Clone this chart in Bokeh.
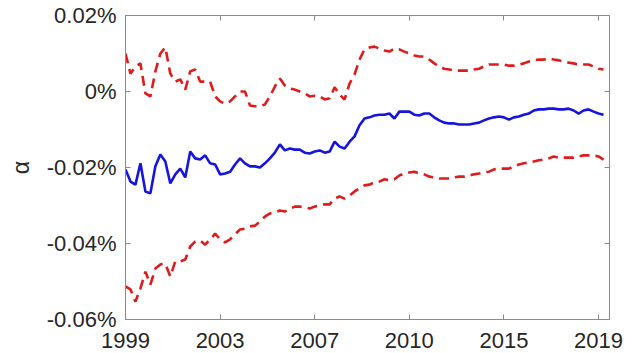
from bokeh.plotting import figure
from bokeh.models import Range1d, FixedTicker, LinearAxis
from bokeh.embed import file_html
from bokeh.resources import INLINE

# tick positions (observation index) and labels
x_tick_pos = [0, 19, 38, 57, 76, 95]
x_tick_labels = ["1999", "2003", "2007", "2010", "2015", "2019"]
y_tick_pos = [-0.06, -0.04, -0.02, 0.0, 0.02]
y_tick_labels = ["-0.06%", "-0.04%", "-0.02%", "0%", "0.02%"]

# alpha estimate (in %) and its upper / lower bands
alpha = [-0.0205, -0.0237, -0.0245, -0.0189, -0.0263, -0.0268, -0.0197, -0.0166, -0.0184, -0.0242,
         -0.0218, -0.0203, -0.0226, -0.0158, -0.0176, -0.0179, -0.0168, -0.0189, -0.0192, -0.0218,
         -0.0216, -0.0211, -0.0192, -0.0176, -0.0189, -0.0197, -0.0197, -0.0200, -0.0189, -0.0176,
         -0.0161, -0.0139, -0.0155, -0.0150, -0.0153, -0.0153, -0.0161, -0.0163, -0.0158, -0.0155,
         -0.0161, -0.0158, -0.0132, -0.0145, -0.0150, -0.0132, -0.0118, -0.0089, -0.0071, -0.0068,
         -0.0063, -0.0061, -0.0061, -0.0058, -0.0071, -0.0053, -0.0053, -0.0053, -0.0061, -0.0063,
         -0.0058, -0.0058, -0.0068, -0.0076, -0.0082, -0.0084, -0.0084, -0.0087, -0.0087, -0.0087,
         -0.0084, -0.0082, -0.0076, -0.0071, -0.0068, -0.0066, -0.0068, -0.0074, -0.0068, -0.0066,
         -0.0061, -0.0058, -0.0050, -0.0047, -0.0047, -0.0045, -0.0045, -0.0047, -0.0047, -0.0045,
         -0.0050, -0.0058, -0.0050, -0.0047, -0.0053, -0.0058, -0.0061]

upper = [0.0100, 0.0047, 0.0066, 0.0074, -0.0005, -0.0013, 0.0053, 0.0100, 0.0116, 0.0047,
         0.0026, 0.0032, 0.0005, 0.0053, 0.0058, 0.0026, 0.0026, 0.0026, -0.0013, -0.0026,
         -0.0032, -0.0026, -0.0013, 0.0000, 0.0000, -0.0037, -0.0039, -0.0039, -0.0034, -0.0013,
         0.0013, 0.0034, 0.0016, 0.0008, 0.0005, 0.0000, -0.0005, -0.0013, -0.0011, -0.0013,
         -0.0021, -0.0018, 0.0011, -0.0008, -0.0021, 0.0021, 0.0045, 0.0084, 0.0111, 0.0116,
         0.0118, 0.0113, 0.0108, 0.0105, 0.0113, 0.0111, 0.0105, 0.0100, 0.0095, 0.0092,
         0.0092, 0.0084, 0.0074, 0.0066, 0.0060, 0.0058, 0.0055, 0.0055, 0.0055, 0.0055,
         0.0058, 0.0060, 0.0066, 0.0071, 0.0071, 0.0071, 0.0071, 0.0068, 0.0068, 0.0071,
         0.0074, 0.0079, 0.0082, 0.0084, 0.0084, 0.0087, 0.0084, 0.0082, 0.0079, 0.0076,
         0.0074, 0.0071, 0.0071, 0.0071, 0.0066, 0.0060, 0.0058]

lower = [-0.0513, -0.0521, -0.0553, -0.0518, -0.0474, -0.0508, -0.0466, -0.0455, -0.0453, -0.0487,
         -0.0447, -0.0447, -0.0442, -0.0408, -0.0395, -0.0392, -0.0403, -0.0389, -0.0374, -0.0389,
         -0.0397, -0.0389, -0.0376, -0.0363, -0.0361, -0.0355, -0.0353, -0.0342, -0.0329, -0.0321,
         -0.0318, -0.0313, -0.0316, -0.0308, -0.0303, -0.0303, -0.0305, -0.0308, -0.0303, -0.0300,
         -0.0297, -0.0297, -0.0282, -0.0276, -0.0282, -0.0274, -0.0263, -0.0255, -0.0247, -0.0245,
         -0.0239, -0.0237, -0.0231, -0.0234, -0.0231, -0.0221, -0.0216, -0.0213, -0.0211, -0.0216,
         -0.0218, -0.0224, -0.0226, -0.0229, -0.0229, -0.0229, -0.0226, -0.0224, -0.0224, -0.0221,
         -0.0218, -0.0216, -0.0213, -0.0211, -0.0205, -0.0203, -0.0203, -0.0203, -0.0197, -0.0192,
         -0.0189, -0.0187, -0.0184, -0.0181, -0.0179, -0.0176, -0.0171, -0.0174, -0.0174, -0.0174,
         -0.0174, -0.0171, -0.0168, -0.0168, -0.0168, -0.0171, -0.0179]

t = list(range(len(alpha)))

FONT = "Liberation Sans"
AX = "#8a8a8a"
TXT = "#262626"

p = figure(width=634, height=353, output_backend="svg", toolbar_location=None,
           x_range=Range1d(0, 97.2), y_range=Range1d(-0.06, 0.02),
           min_border_left=125, min_border_right=25, min_border_top=15, min_border_bottom=34)
p.grid.visible = False
p.outline_line_color = AX
p.background_fill_color = "white"
p.border_fill_color = "white"

p.line(t, upper, line_color="#e01b1b", line_width=2.6, line_dash="10 6")
p.line(t, lower, line_color="#e01b1b", line_width=2.6, line_dash="10 6")
p.line(t, alpha, line_color="#1414dc", line_width=2.6)

xa = p.xaxis[0]
xa.ticker = FixedTicker(ticks=x_tick_pos)
xa.major_label_overrides = {pos: lab for pos, lab in zip(x_tick_pos, x_tick_labels)}
ya = p.yaxis[0]
ya.ticker = FixedTicker(ticks=y_tick_pos)
ya.major_label_overrides = {pos: lab for pos, lab in zip(y_tick_pos, y_tick_labels)}
ya.axis_label = "α"
ya.axis_label_text_font = FONT
ya.axis_label_text_font_size = "23px"
ya.axis_label_text_font_style = "normal"
ya.axis_label_text_color = TXT
ya.axis_label_standoff = 10

for ax in (xa, ya):
    ax.major_label_text_font = FONT
    ax.major_label_text_font_size = "22px"
    ax.major_label_text_color = TXT
    ax.axis_line_color = AX
    ax.major_tick_line_color = AX
    ax.major_tick_in = 5
    ax.major_tick_out = 0
    ax.minor_tick_line_color = None
xa.major_label_standoff = 13
ya.major_label_standoff = 9

top = LinearAxis(ticker=FixedTicker(ticks=x_tick_pos), major_label_text_font_size="1px",
                 major_label_text_color=None, major_label_standoff=0,
                 major_tick_in=5, major_tick_out=0,
                 minor_tick_line_color=None, axis_line_color=AX, major_tick_line_color=AX)
right = LinearAxis(ticker=FixedTicker(ticks=y_tick_pos), major_label_text_font_size="1px",
                   major_label_text_color=None, major_label_standoff=0,
                   major_tick_in=5, major_tick_out=0,
                   minor_tick_line_color=None, axis_line_color=AX, major_tick_line_color=AX)
p.add_layout(top, "above")
p.add_layout(right, "right")

open("out.html", "w").write(file_html(p, INLINE))
